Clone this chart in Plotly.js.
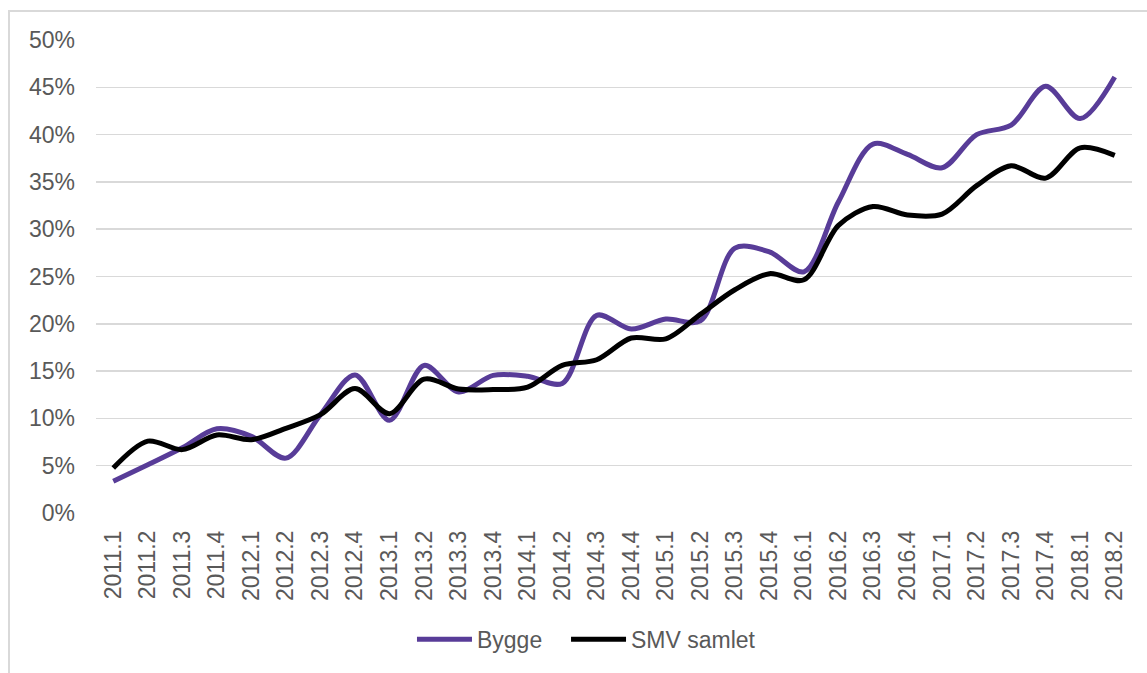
<!DOCTYPE html>
<html>
<head>
<meta charset="utf-8">
<script src="https://cdn.plot.ly/plotly-3.0.1.min.js"></script>
<style>
  html, body { margin: 0; padding: 0; background: #ffffff; overflow: hidden; }
  #frame { position: absolute; left: 8px; top: 10px; width: 1400px; height: 900px; border: 2px solid #d9d9d9; box-sizing: border-box; }
  #chart { position: absolute; left: 0; top: 0; width: 1147px; height: 673px; }
</style>
</head>
<body>
<div id="frame"></div>
<div id="chart"></div>
<script>
const categories = ["2011.1","2011.2","2011.3","2011.4","2012.1","2012.2","2012.3","2012.4",
  "2013.1","2013.2","2013.3","2013.4","2014.1","2014.2","2014.3","2014.4",
  "2015.1","2015.2","2015.3","2015.4","2016.1","2016.2","2016.3","2016.4",
  "2017.1","2017.2","2017.3","2017.4","2018.1","2018.2"];

const bygge = [3.35, 5.1, 6.9, 8.9, 8.1, 5.8, 10.4, 14.6, 9.8, 15.6, 12.8, 14.55, 14.45, 13.7,
  20.9, 19.45, 20.5, 20.3, 28.0, 27.6, 25.5, 32.9, 39.0, 37.9, 36.5, 40.0, 41.0, 45.1, 41.7, 46.1];

const smvSamlet = [4.75, 7.6, 6.7, 8.25, 7.75, 8.95, 10.4, 13.15, 10.5, 14.15, 13.1, 13.05, 13.3, 15.6,
  16.2, 18.5, 18.4, 21.0, 23.6, 25.3, 24.65, 30.4, 32.4, 31.5, 31.6, 34.6, 36.7, 35.4, 38.6, 37.8];

const yTickVals = [0, 5, 10, 15, 20, 25, 30, 35, 40, 45, 50];
const yTickText = ["0%","5%","10%","15%","20%","25%","30%","35%","40%","45%","50%"];

const seriesNames = ["Bygge", "SMV samlet"];
const seriesColors = ["#583c98", "#000000"];
const seriesLegends = ["legend", "legend2"];

const font = { family: "Liberation Sans, Arial, sans-serif", size: 23, color: "#595959" };

const traces = [bygge, smvSamlet].map((vals, i) => ({
  type: "scatter",
  mode: "lines",
  name: seriesNames[i],
  legend: seriesLegends[i],
  x: categories,
  y: vals,
  line: { color: seriesColors[i], width: 5, shape: "spline", smoothing: 0.9 },
  hoverinfo: "skip"
}));

const legendBase = {
  orientation: "h",
  xanchor: "left",
  y: -0.267, yanchor: "middle",
  font: font,
  bgcolor: "rgba(0,0,0,0)",
  itemwidth: 55
};

const layout = {
  width: 1147,
  height: 673,
  margin: { l: 96, r: 15, t: 40, b: 158 },
  paper_bgcolor: "rgba(0,0,0,0)",
  plot_bgcolor: "rgba(0,0,0,0)",
  font: font,
  showlegend: true,
  legend: Object.assign({}, legendBase, { x: 0.305 }),
  legend2: Object.assign({}, legendBase, { x: 0.4537 }),
  xaxis: {
    type: "category",
    range: [-0.5, 29.5],
    tickangle: -90,
    showgrid: false,
    zeroline: false,
    showline: false,
    ticks: "",
    ticklabelstandoff: 12,
    tickfont: font,
    fixedrange: true
  },
  yaxis: {
    range: [0, 50],
    tickvals: yTickVals,
    ticktext: yTickText,
    showgrid: true,
    gridcolor: "#d9d9d9",
    gridwidth: 1.5,
    zeroline: false,
    showline: false,
    ticks: "",
    ticklabelstandoff: 20,
    tickfont: font,
    fixedrange: true
  }
};

Plotly.newPlot("chart", traces, layout, { displayModeBar: false, staticPlot: true });
</script>
</body>
</html>
